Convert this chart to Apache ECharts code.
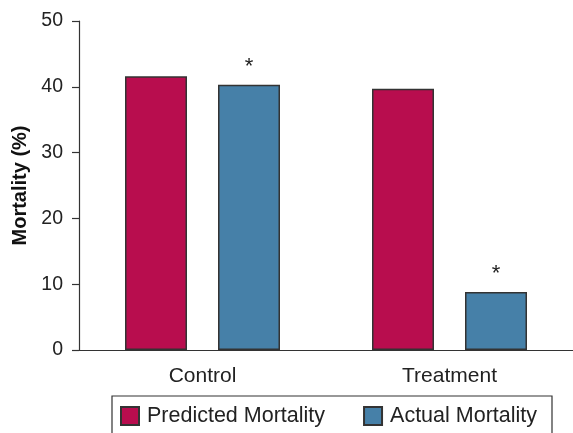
<!DOCTYPE html>
<html><head><meta charset="utf-8">
<script src="https://cdn.jsdelivr.net/npm/echarts@6/dist/echarts.min.js"></script>
<style>html,body{margin:0;padding:0;background:#fff}#c{width:573px;height:433px}</style>
</head><body><div id="c"></div>
<script>
var categories = ['Control', 'Treatment'];
var predicted = [41.6, 39.7];
var actual = [40.3, 8.8];
var yTicks = [0, 10, 20, 30, 40, 50];

var chart = echarts.init(document.getElementById('c'), null, {renderer: 'canvas'});
var font = 'Liberation Sans, Arial, Helvetica, sans-serif';
chart.setOption({
  animation: false,
  textStyle: {fontFamily: font},
  grid: {left: 79, right: 0, top: 21, bottom: 83, containLabel: false},
  legend: {
    top: 396, left: 112,
    padding: [9, 15, 30, 8],
    borderColor: '#333', borderWidth: 1.2,
    icon: 'rect',
    itemWidth: 18, itemHeight: 18, itemGap: 38,
    textStyle: {fontSize: 21.5, color: '#222', fontFamily: font, padding: [0, 0, 0, 3]},
    data: ['Predicted Mortality', 'Actual Mortality']
  },
  xAxis: {
    type: 'category', data: categories,
    axisLine: {lineStyle: {color: '#333', width: 1.2}},
    axisTick: {alignWithLabel: true, length: 6, lineStyle: {color: '#333', width: 1.2}},
    axisLabel: {fontSize: 21, color: '#222', margin: 16, fontFamily: font}
  },
  yAxis: {
    type: 'value', min: yTicks[0], max: yTicks[yTicks.length - 1], interval: 10,
    name: 'Mortality (%)', nameLocation: 'middle', nameGap: 47,
    nameTextStyle: {fontSize: 20, fontWeight: 'bold', color: '#111', fontFamily: font},
    axisLine: {show: true, lineStyle: {color: '#333', width: 1.2}},
    axisTick: {show: true, length: 7, lineStyle: {color: '#333', width: 1.2}},
    axisLabel: {fontSize: 19.5, color: '#222', margin: 16, fontFamily: font},
    splitLine: {show: false}
  },
  series: [
    {
      name: 'Predicted Mortality', type: 'bar', data: predicted,
      barWidth: 62, barGap: '50%',
      itemStyle: {color: '#B80D4E', borderColor: '#333', borderWidth: 1.5}
    },
    {
      name: 'Actual Mortality', type: 'bar', data: actual,
      barWidth: 62,
      itemStyle: {color: '#4680A8', borderColor: '#333', borderWidth: 1.5},
      label: {show: true, position: 'top', formatter: '*', fontSize: 22, color: '#222', distance: 7, fontFamily: font}
    }
  ]
});
</script></body></html>
